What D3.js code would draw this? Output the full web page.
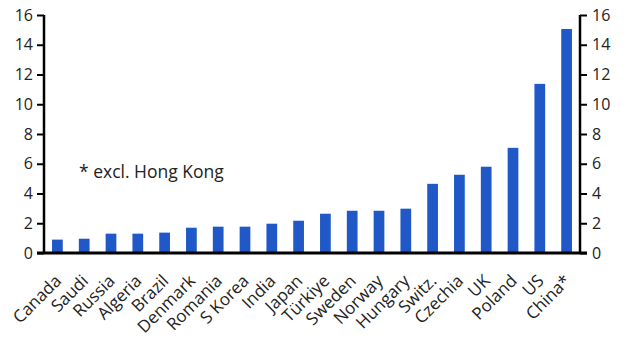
<!DOCTYPE html>
<html>
<head>
<meta charset="UTF-8" />
<script src="https://cdn.jsdelivr.net/npm/d3@7/dist/d3.min.js"></script>
<style>
  html, body { margin: 0; padding: 0; background: #fff; }
  svg { display: block; font-family: "Open Sans", "Noto Sans", sans-serif; }
</style>
</head>
<body>
<div id="chart"></div>
<script>
// data
const countries = ["Canada", "Saudi", "Russia", "Algeria", "Brazil", "Denmark", "Romania", "S Korea", "India", "Japan",
  "Türkiye", "Sweden", "Norway", "Hungary", "Switz.", "Czechia", "UK", "Poland", "US", "China*"];
const values = [0.9, 0.96, 1.3, 1.3, 1.37, 1.7, 1.77, 1.77, 1.97, 2.17,
  2.64, 2.84, 2.84, 2.98, 4.65, 5.26, 5.8, 7.07, 11.37, 15.06];
const yTicks = [0, 2, 4, 6, 8, 10, 12, 14, 16];
const note = "* excl. Hong Kong";

const width = 629, height = 355;
const margin = { top: 15, right: 49, bottom: 102, left: 44 };
const barColor = "#2058c8";

const svg = d3.select("#chart").append("svg")
  .attr("width", width)
  .attr("height", height);

const x = d3.scaleBand()
  .domain(countries)
  .range([margin.left, width - margin.right])
  .paddingInner(0.6)
  .paddingOuter(0.3);

const y = d3.scaleLinear()
  .domain([0, 16])
  .range([height - margin.bottom, margin.top]);

// bars
svg.append("g")
  .selectAll("rect")
  .data(countries)
  .join("rect")
  .attr("x", d => x(d))
  .attr("width", x.bandwidth())
  .attr("y", (d, i) => y(values[i]))
  .attr("height", (d, i) => y(0) - y(values[i]))
  .attr("fill", barColor);

// left axis
const left = svg.append("g")
  .attr("transform", `translate(${margin.left},0)`)
  .call(d3.axisLeft(y).tickValues(yTicks).tickSize(7).tickPadding(4));
// right axis
const right = svg.append("g")
  .attr("transform", `translate(${width - margin.right},0)`)
  .call(d3.axisRight(y).tickValues(yTicks).tickSize(7).tickPadding(5));

[left, right].forEach(g => {
  g.select(".domain").attr("stroke", "#000").attr("stroke-width", 2.5)
    .attr("d", `M0,${y(16)}V${y(0)}`);
  g.selectAll(".tick line").attr("stroke", "#000").attr("stroke-width", 2);
  g.selectAll(".tick text").attr("fill", "#222").attr("font-size", 16)
    .attr("font-family", "Open Sans, Noto Sans, sans-serif");
});

// x axis baseline
svg.append("line")
  .attr("x1", margin.left - 7)
  .attr("x2", width - margin.right + 7)
  .attr("y1", y(0))
  .attr("y2", y(0))
  .attr("stroke", "#000")
  .attr("stroke-width", 3);

// category labels
svg.append("g")
  .selectAll("text")
  .data(countries)
  .join("text")
  .attr("transform", d => `translate(${x(d) + x.bandwidth() / 2 + 5},${y(0) + 29}) rotate(-45)`)
  .attr("text-anchor", "end")
  .attr("font-size", 17)
  .attr("fill", "#222")
  .text(d => d);

// note
svg.append("text")
  .attr("x", 79)
  .attr("y", 178)
  .attr("font-size", 17.5)
  .attr("fill", "#222")
  .text(note);
</script>
</body>
</html>
